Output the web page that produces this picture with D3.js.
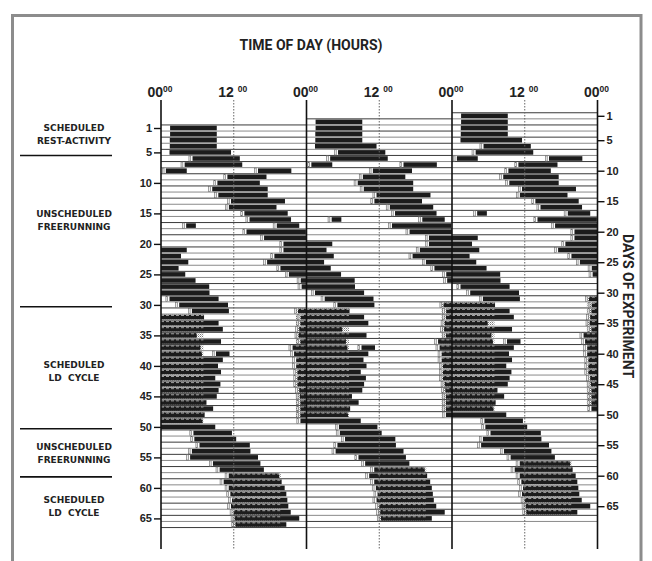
<!DOCTYPE html>
<html>
<head>
<meta charset="utf-8">
<script src="https://cdn.jsdelivr.net/npm/d3@7"></script>
<style>
  body { margin: 0; background: #fff; }
  svg { display: block; }
</style>
</head>
<body>
<script>
"use strict";

// days labelled on both side axes
var dayTicks = [1, 5, 10, 15, 20, 25, 30, 35, 40, 45, 50, 55, 60, 65];
// hour ticks along the 72 h triple plot
var hourTicks = [0, 12, 24, 36, 48, 60, 72];
var hourLabels = ['00', '12 ', '00', '12 ', '00', '12 ', '00'];
// last day drawn in each of the three panels
var lastDay = [66, 67, 67];

var phaseBreaks = [5.5, 30.3, 50.3, 58.2];
var phaseNames = [
  ['SCHEDULED', 'REST-ACTIVITY'],
  ['UNSCHEDULED', 'FREERUNNING'],
  ['SCHEDULED', 'LD  CYCLE'],
  ['UNSCHEDULED', 'FREERUNNING'],
  ['SCHEDULED', 'LD  CYCLE']
];
var phaseMid = [2, 16, 40.8, 54.2, 63];

// sleep episodes: [day, onset hour, offset hour] (offset > 24 = next day)
var sleepEpisodes = [
  [1, 1.5, 9.2], [2, 1.5, 9.2], [3, 1.45, 9.2], [4, 1.45, 9.2], [5, 1.4, 11.55],
  [6, 5.2, 13.0], [7, 3.9, 13.4], [8, 0.8, 4.25], [8, 16.0, 21.5],
  [9, 10.95, 17.4], [10, 9.3, 16.3], [11, 8.45, 17.6], [12, 9.45, 17.6],
  [13, 11.55, 20.45], [14, 11.2, 19.05], [15, 13.75, 20.9], [16, 14.6, 21.45],
  [17, 4.15, 5.75], [17, 19.1, 22.8], [18, 14.1, 23.9], [19, 17.0, 24.0],
  [20, 20.2, 28.25], [21, 20.2, 27.3], [22, 18.7, 28.5], [23, 17.5, 26.9],
  [24, 19.7, 28.0], [25, 21.1, 29.7], [26, 23.05, 31.95], [27, 23.2, 32.0],
  [29, 1.4, 9.5], [30, 3.0, 11.05], [31, 5.1, 11.2], [31, 22.6, 31.1],
  [32, 23.05, 33.5], [33, 23.0, 34.2], [34, 22.8, 29.9], [35, 22.7, 33.9],
  [36, 23.0, 30.5], [37, 21.7, 30.75], [38, 9.07, 11.3], [38, 21.95, 34.2],
  [39, 22.3, 33.4], [40, 22.3, 33.9], [41, 22.5, 32.95], [42, 22.5, 33.8],
  [43, 22.5, 33.5], [44, 22.8, 33.2], [45, 22.9, 31.5], [46, 23.0, 32.6],
  [47, 23.0, 31.2], [48, 23.0, 30.85], [49, 23.0, 32.95],
  [51, 5.35, 11.7], [52, 5.5, 12.4], [53, 6.35, 14.65], [54, 5.1, 14.75],
  [55, 4.8, 16.0], [56, 8.57, 16.4], [57, 9.67, 16.97], [58, 11.17, 19.5],
  [59, 10.34, 19.9], [60, 11.17, 20.4], [61, 11.44, 20.67], [62, 11.72, 20.84],
  [63, 11.55, 21.0], [64, 12.0, 21.4], [65, 12.16, 22.8], [66, 12.27, 20.67]
];

// scheduled dark periods: [first day, last day, lights off, lights on]
var darkPeriods = [[31, 48, 22.25, 31.0], [58, 66, 11.75, 19.75]];
var markerFromDay = 6;

var width = 652, height = 561;

var svg = d3.select('body').append('svg')
  .attr('width', width)
  .attr('height', height);

var defs = svg.append('defs');
var pat = defs.append('pattern')
  .attr('id', 'stipple')
  .attr('width', 2).attr('height', 2)
  .attr('patternUnits', 'userSpaceOnUse');
pat.append('rect').attr('width', 2).attr('height', 2).attr('fill', '#fff');
pat.append('rect').attr('width', 1).attr('height', 1).attr('fill', '#777');
pat.append('rect').attr('x', 1).attr('y', 1).attr('width', 1).attr('height', 1).attr('fill', '#bbb');

var x = d3.scaleLinear().domain([0, 72]).range([161, 597.5]);
var y = d3.scaleLinear().domain([1, 66]).range([128, 524.5]);

// frame
svg.append('rect')
  .attr('x', 12.5).attr('y', 15.5)
  .attr('width', 628.5).attr('height', 570)
  .attr('fill', 'none')
  .attr('stroke', '#8c8c8c')
  .attr('stroke-width', 3);

// split an episode into pieces per panel row (triple plot: row r, panel p = day r+p)
function pieces(day, s, e) {
  var a = (day - 1) * 24 + s, b = (day - 1) * 24 + e, out = [];
  for (var d = Math.floor(a / 24) + 1; d <= Math.ceil(b / 24); d++) {
    var lo = Math.max(a, (d - 1) * 24), hi = Math.min(b, d * 24);
    if (hi <= lo) continue;
    for (var p = 0; p < 3; p++) {
      if (d > lastDay[p]) continue;
      out.push({
        day: day,
        row: d - p,
        x0: p * 24 + lo - (d - 1) * 24,
        x1: p * 24 + hi - (d - 1) * 24,
        onset: lo === a
      });
    }
  }
  return out;
}

// row lines
var rowLines = [];
lastDay.forEach(function(n, p) {
  for (var d = 0; d <= n; d++) {
    rowLines.push({ p: p, r: d - p + 0.5, k: d });
  }
});
svg.append('g').selectAll('line')
  .data(rowLines)
  .enter().append('line')
  .attr('x1', function(d) { return x(d.p * 24); })
  .attr('x2', function(d) { return x(d.p * 24 + 24); })
  .attr('y1', function(d) { return y(d.r); })
  .attr('y2', function(d) { return y(d.r); })
  .attr('stroke', function(d) { return d.k % 2 ? '#8a8a8a' : '#3a3a3a'; })
  .attr('stroke-width', 1);

// dark periods
var darkPieces = [];
darkPeriods.forEach(function(dp) {
  for (var d = dp[0]; d <= dp[1]; d++) {
    darkPieces = darkPieces.concat(pieces(d, dp[2], dp[3]));
  }
});
svg.append('g').selectAll('rect')
  .data(darkPieces)
  .enter().append('rect')
  .attr('x', function(d) { return x(d.x0); })
  .attr('y', function(d) { return y(d.row) - 2.3; })
  .attr('width', function(d) { return x(d.x1) - x(d.x0); })
  .attr('height', 4.6)
  .attr('fill', 'url(#stipple)');

// sleep bars
var sleepPieces = [];
sleepEpisodes.forEach(function(ep) {
  sleepPieces = sleepPieces.concat(pieces(ep[0], ep[1], ep[2]));
});
svg.append('g').selectAll('rect')
  .data(sleepPieces)
  .enter().append('rect')
  .attr('x', function(d) { return x(d.x0); })
  .attr('y', function(d) { return y(d.row) - 2.3; })
  .attr('width', function(d) { return x(d.x1) - x(d.x0); })
  .attr('height', 4.6)
  .attr('fill', '#1c1c1c');

// dashed dark-period trace over bars
svg.append('g').selectAll('line')
  .data(darkPieces)
  .enter().append('line')
  .attr('x1', function(d) { return x(d.x0); })
  .attr('x2', function(d) { return x(d.x1); })
  .attr('y1', function(d) { return y(d.row) - 1.6; })
  .attr('y2', function(d) { return y(d.row) - 1.6; })
  .attr('stroke', '#d8d8d8')
  .attr('stroke-width', 0.7)
  .attr('stroke-dasharray', '3,2');

// onset markers
svg.append('g').selectAll('rect')
  .data(sleepPieces.filter(function(d) { return d.onset && d.day >= markerFromDay; }))
  .enter().append('rect')
  .attr('x', function(d) { return x(d.x0) - 3.6; })
  .attr('y', function(d) { return y(d.row) - 2.6; })
  .attr('width', 1.8)
  .attr('height', 5.2)
  .attr('fill', '#eee')
  .attr('stroke', '#666')
  .attr('stroke-width', 0.6);

// vertical hour lines
svg.append('g').selectAll('line')
  .data(hourTicks)
  .enter().append('line')
  .attr('x1', function(d) { return x(d); })
  .attr('x2', function(d) { return x(d); })
  .attr('y1', 100)
  .attr('y2', 549)
  .attr('stroke', function(d) { return d % 24 ? '#666' : '#111'; })
  .attr('stroke-width', function(d) { return d % 24 ? 1 : 1.6; })
  .attr('stroke-dasharray', function(d) { return d % 24 ? '1.5,1.5' : null; });

// hour labels
var hl = svg.append('g').selectAll('text')
  .data(hourTicks)
  .enter().append('text')
  .attr('x', function(d) { return x(d) - 1; })
  .attr('y', 97)
  .attr('text-anchor', 'middle')
  .attr('font-family', '"Liberation Sans Narrow", "Liberation Sans", Arial, sans-serif')
  .attr('font-weight', 'bold')
  .attr('fill', '#222')
  .style('white-space', 'pre');
hl.append('tspan')
  .attr('font-size', 14)
  .text(function(d, i) { return hourLabels[i]; });
hl.append('tspan')
  .attr('font-size', 8.5)
  .attr('dy', -5)
  .text('00');

// left day axis
var leftAxis = svg.append('g')
  .attr('transform', 'translate(' + x(0) + ',0)')
  .call(d3.axisLeft(y).tickValues(dayTicks).tickSize(7).tickPadding(2));
// right day axis (third panel is two days ahead)
var rightAxis = svg.append('g')
  .attr('transform', 'translate(' + x(72) + ',0)')
  .call(d3.axisRight(y)
    .tickValues(dayTicks.map(function(d) { return d - 2; }))
    .tickFormat(function(d) { return d + 2; })
    .tickSize(7).tickPadding(2));
[leftAxis, rightAxis].forEach(function(g) {
  g.select('.domain').remove();
  g.selectAll('line').attr('stroke', '#111').attr('stroke-width', 1.4);
  g.selectAll('text')
    .attr('font-family', '"Liberation Sans Narrow", "Liberation Sans", Arial, sans-serif')
    .attr('font-weight', 'bold')
    .attr('font-size', 11)
    .attr('fill', '#222');
});

// phase separators and names
svg.append('g').selectAll('line')
  .data(phaseBreaks)
  .enter().append('line')
  .attr('x1', 20).attr('x2', 112)
  .attr('y1', function(d) { return y(d); })
  .attr('y2', function(d) { return y(d); })
  .attr('stroke', '#111')
  .attr('stroke-width', 1.6);

var pn = svg.append('g').selectAll('text')
  .data(phaseNames)
  .enter().append('text')
  .attr('x', 74)
  .attr('y', function(d, i) { return y(phaseMid[i]) - 3; })
  .attr('text-anchor', 'middle')
  .attr('font-family', '"DejaVu Sans", Verdana, sans-serif')
  .attr('font-weight', 'bold')
  .attr('font-size', 9)
  .attr('fill', '#222')
  .style('white-space', 'pre');
pn.append('tspan')
  .attr('x', 74)
  .text(function(d) { return d[0]; });
pn.append('tspan')
  .attr('x', 74)
  .attr('dy', 13)
  .text(function(d) { return d[1]; });

// titles
svg.append('text')
  .attr('x', 311)
  .attr('y', 50)
  .attr('text-anchor', 'middle')
  .attr('font-family', 'Roboto, "Liberation Sans", sans-serif')
  .attr('font-weight', 'bold')
  .attr('font-size', 14)
  .attr('fill', '#222')
  .text('TIME OF DAY (HOURS)');

svg.append('text')
  .attr('transform', 'translate(623,306) rotate(90)')
  .attr('text-anchor', 'middle')
  .attr('font-family', 'Roboto, "Liberation Sans", sans-serif')
  .attr('font-weight', 'bold')
  .attr('font-size', 14)
  .attr('fill', '#222')
  .text('DAYS OF EXPERIMENT');
</script>
</body>
</html>
